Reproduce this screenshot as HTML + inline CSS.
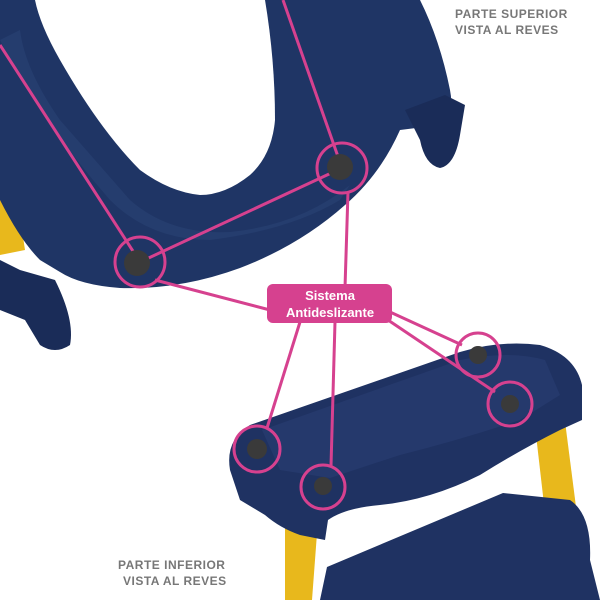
<!DOCTYPE html>
<html><head><meta charset="utf-8"><style>
html,body{margin:0;padding:0;background:#fff;}
svg{display:block}
text{font-family:"Liberation Sans",sans-serif;}
</style></head><body>
<svg width="600" height="600" viewBox="0 0 600 600" xmlns="http://www.w3.org/2000/svg">
<rect width="600" height="600" fill="#fff"/>
<path d="M365 0 L415 0 L432 70 L400 85 Z" fill="#e8b81c"/>
<path d="M0 180 L15 185 L25 250 L0 255 Z" fill="#e8b81c"/>
<path d="M0 0 L360 0 L420 0 Q440 40 450 90 Q455 115 440 125 L400 130 Q380 175 345 205 Q300 245 240 268 Q180 290 120 288 Q80 285 60 272 L40 260 Q20 240 0 200 Z" fill="#1f3565"/>
<path d="M405 110 L445 95 L465 105 L460 135 Q455 165 440 168 Q425 165 420 140 Z" fill="#1a2c58"/>
<path d="M0 260 L20 270 L55 280 Q75 320 70 345 Q55 355 40 345 L25 320 L0 310 Z" fill="#1a2c58"/>
<path d="M35 0 L265 0 Q275 60 275 120 Q272 155 250 175 Q225 195 200 195 Q170 192 140 170 Q100 130 60 60 Q40 25 35 0 Z" fill="#fff"/>
<path d="M0 40 Q40 120 110 200 Q150 240 210 240 Q290 230 340 200 L350 185 Q300 225 230 232 Q170 235 130 200 L60 120 Q25 70 20 30 Z" fill="#2a4275" opacity="0.6"/>
<path d="M532 400 L562 398 L588 600 L555 600 Z" fill="#e8b81c"/>
<path d="M285 520 L318 520 L312 600 L285 600 Z" fill="#e8b81c"/>
<path d="M320 600 L327 567 L503 493 L570 500 Q592 515 590 560 L600 600 Z" fill="#1f3262"/>
<path d="M230 470 Q225 440 250 425 L460 352 Q500 340 540 345 Q575 355 582 385 L582 420 L560 430 Q520 450 480 475 Q430 500 380 505 Q345 508 328 520 L325 540 L300 535 Q280 528 265 515 L240 500 Z" fill="#1f3262"/>
<path d="M262 430 L460 360 Q510 350 545 360 L560 395 L520 420 Q460 440 400 455 L330 478 L280 470 Z" fill="#25396c"/>
<g stroke="#d6418f" stroke-width="3" fill="none">
<line x1="140" y1="262" x2="0" y2="45"/>
<line x1="342" y1="168" x2="283" y2="0"/>
<line x1="140" y1="262" x2="342" y2="168"/>
<line x1="155" y1="280" x2="270" y2="310"/>
<line x1="348" y1="192" x2="345" y2="288"/>
<line x1="390" y1="312" x2="462" y2="345"/>
<line x1="385" y1="318" x2="495" y2="392"/>
<line x1="300" y1="322" x2="267" y2="428"/>
<line x1="335" y1="322" x2="331" y2="466"/>
<circle cx="140" cy="262" r="25"/>
<circle cx="342" cy="168" r="25"/>
<circle cx="478" cy="355" r="22"/>
<circle cx="510" cy="404" r="22"/>
<circle cx="257" cy="449" r="23"/>
<circle cx="323" cy="487" r="22"/>
</g>
<g fill="#3a3a3a">
<circle cx="137" cy="263" r="13"/><circle cx="340" cy="167" r="13"/>
<circle cx="478" cy="355" r="9"/><circle cx="510" cy="404" r="9"/>
<circle cx="257" cy="449" r="10"/><circle cx="323" cy="486" r="9"/>
</g>
<rect x="267" y="284" width="125" height="39" rx="6" fill="#d6418f"/>
<text x="330" y="300" fill="#fff" font-size="13" font-weight="bold" text-anchor="middle">Sistema</text>
<text x="330" y="317" fill="#fff" font-size="13" font-weight="bold" text-anchor="middle">Antideslizante</text>
<text x="455" y="18" fill="#777" font-size="12" font-weight="bold" letter-spacing="0.5">PARTE SUPERIOR</text>
<text x="455" y="34" fill="#777" font-size="12" font-weight="bold" letter-spacing="0.5">VISTA AL REVES</text>
<text x="118" y="569" fill="#777" font-size="12" font-weight="bold" letter-spacing="0.5">PARTE INFERIOR</text>
<text x="123" y="585" fill="#777" font-size="12" font-weight="bold" letter-spacing="0.5">VISTA AL REVES</text>
</svg>
</body></html>
